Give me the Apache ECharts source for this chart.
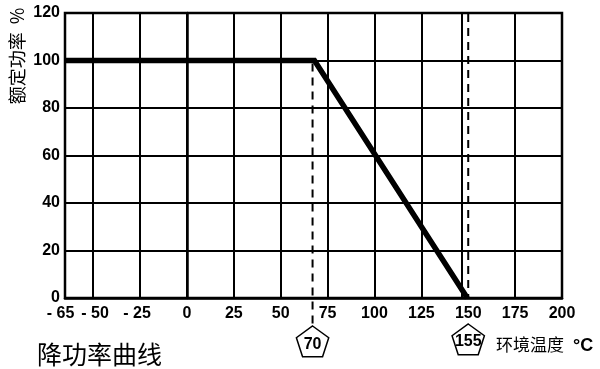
<!DOCTYPE html>
<html><head><meta charset="utf-8">
<script src="https://cdn.jsdelivr.net/npm/echarts@6/dist/echarts.min.js"></script>
<style>html,body{margin:0;padding:0;background:#fff}#c{width:600px;height:369px}</style>
</head><body><div id="c"></div>
<script>
// data
const curveX = [-65, 68, 149.5];
const curveY = [100, 100, 0];
const xTickValues = [-65, -50, -25, 0, 25, 50, 75, 100, 125, 150, 175, 200];
const gridX = [-50, -25, 0, 25, 50, 75, 100, 125, 146.5, 175];
const yTicks = [0, 20, 40, 60, 80, 100, 120];
const kneeMarkX = 67;      // dashed line under knee, labelled "70"
const endMarkX = 150;      // dashed line at end, labelled "155"
const kneeLabel = '70';
const endLabel = '155';
const yTitle = '额定功率  %';
const xTitle = '环境温度';
const xUnit = '°C';
const chartTitle = '降功率曲线';

const NUM = 'Liberation Sans, Arial, sans-serif';
const CJK = 'Noto Sans CJK SC, sans-serif';

const chart = echarts.init(document.getElementById('c'));
chart.setOption({
  animation: false,
  backgroundColor: '#fff',
  grid: {left: 65, right: 38, top: 13, bottom: 71, show: true, borderColor: '#000', borderWidth: 2.5, containLabel: false},
  xAxis: {
    type: 'value', min: -65, max: 200,
    axisLine: {show: true, lineStyle: {color: '#000', width: 2.5}},
    axisTick: {show: false},
    splitLine: {show: false},
    axisLabel: {show: false}
  },
  yAxis: {
    type: 'value', min: 0, max: 120, interval: 20,
    axisLine: {show: true, lineStyle: {color: '#000', width: 2.5}},
    axisTick: {show: false},
    splitLine: {show: true, lineStyle: {color: '#000', width: 2}},
    axisLabel: {color: '#000', fontFamily: NUM, fontWeight: 'bold', fontSize: 16, margin: 5}
  },
  series: [{
    type: 'line',
    data: curveX.map((x, i) => [x, curveY[i]]),
    symbol: 'none',
    z: 5,
    lineStyle: {color: '#000', width: 5.5, join: 'miter'},
    markLine: {
      silent: true, symbol: 'none', z: 2,
      label: {show: false},
      lineStyle: {color: '#000', width: 2, type: 'solid'},
      data: gridX.map(v => ({xAxis: v}))
    }
  }]
});

function pentagon(cx, cy, R) {
  const pts = [];
  for (let k = 0; k < 5; k++) {
    const a = -Math.PI / 2 + k * 2 * Math.PI / 5;
    pts.push([cx + R * Math.cos(a), cy + R * Math.sin(a)]);
  }
  return pts;
}

const p100k = chart.convertToPixel({gridIndex: 0}, [kneeMarkX, 100]);
const p0k = chart.convertToPixel({gridIndex: 0}, [kneeMarkX, 0]);
const pTopE = chart.convertToPixel({gridIndex: 0}, [endMarkX, 120]);
const p0e = chart.convertToPixel({gridIndex: 0}, [endMarkX, 0]);
const dash = {stroke: '#000', lineWidth: 2, lineDash: [8, 6]};
const R = 17;
const kCy = p0k[1] + 45, eCy = p0e[1] + 43;

// x tick labels placed through the axis scale (small nudges for the crowded negative labels)
const labelNudge = {'-65': -4.5, '-50': 2, '-25': -3};
const fmtX = v => v < 0 ? '- ' + Math.abs(v) : String(v);
const xLabelGraphics = xTickValues.map(v => {
  const p = chart.convertToPixel({gridIndex: 0}, [v, 0]);
  return {type: 'text', x: p[0] + (labelNudge[String(v)] || 0), y: p[1] + 8,
    style: {text: fmtX(v), font: 'bold 16px ' + NUM, fill: '#000', align: 'center', verticalAlign: 'top'}};
});

chart.setOption({
  graphic: xLabelGraphics.concat([
    {type: 'line', shape: {x1: p100k[0], y1: p100k[1] + 3, x2: p0k[0], y2: kCy - R}, style: dash, z: 3},
    {type: 'line', shape: {x1: pTopE[0], y1: pTopE[1] + 1, x2: p0e[0], y2: p0e[1]}, style: dash, z: 3},
    {type: 'polygon', shape: {points: pentagon(p0k[0], kCy, R)}, style: {fill: 'transparent', stroke: '#000', lineWidth: 1.5}},
    {type: 'text', x: p0k[0], y: kCy + 2, style: {text: kneeLabel, font: 'bold 16px ' + NUM, fill: '#000', align: 'center', verticalAlign: 'middle'}},
    {type: 'polygon', shape: {points: pentagon(p0e[0], eCy, R)}, style: {fill: 'transparent', stroke: '#000', lineWidth: 1.5}},
    {type: 'text', x: p0e[0], y: eCy + 1, style: {text: endLabel, font: 'bold 16px ' + NUM, fill: '#000', align: 'center', verticalAlign: 'middle'}},
    {type: 'text', x: 496, y: 345, style: {text: xTitle, font: '17px ' + CJK, fill: '#000', align: 'left', verticalAlign: 'middle'}},
    {type: 'text', x: 573, y: 346, style: {text: xUnit, font: 'bold 18px ' + NUM, fill: '#000', align: 'left', verticalAlign: 'middle'}},
    {type: 'text', x: 37, y: 354, style: {text: chartTitle, font: '25px ' + CJK, fill: '#000', align: 'left', verticalAlign: 'middle'}},
    {type: 'text', x: 17, y: 56, rotation: Math.PI / 2, style: {text: yTitle, font: '18px ' + CJK, fill: '#000', align: 'center', verticalAlign: 'middle'}}
  ])
});
</script></body></html>
